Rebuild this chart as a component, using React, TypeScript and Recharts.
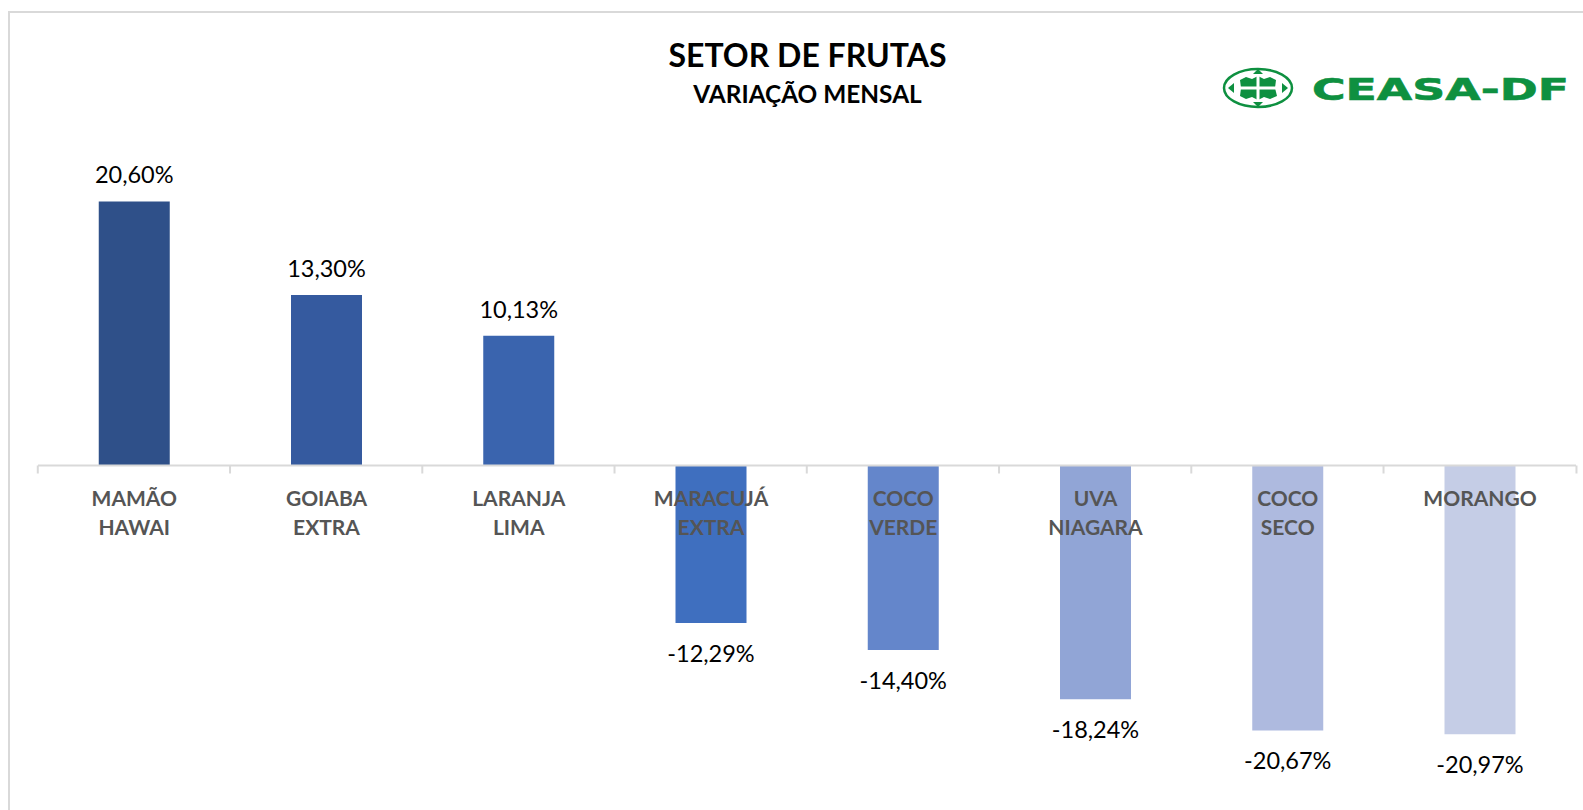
import React from 'react';
import {BarChart, Bar, XAxis, YAxis, Cell, LabelList, ReferenceLine} from 'recharts';

// dados do gráfico
const produtos = ["MAMÃO HAWAI", "GOIABA EXTRA", "LARANJA LIMA", "MARACUJÁ EXTRA", "COCO VERDE", "UVA NIAGARA", "COCO SECO", "MORANGO"];
const variacoes = [20.60, 13.30, 10.13, -12.29, -14.40, -18.24, -20.67, -20.97];
const cores = ["#2F5089", "#355A9F", "#3A64AE", "#3F6FBF", "#6486CB", "#91A5D6", "#AEBADF", "#C5CDE6"];
const dominioY = [-25, 25];

const data = produtos.map((nome, i) => ({nome, valor: variacoes[i], fill: cores[i]}));

const GAP = 0.316;
const FONTE = "Lato, 'Open Sans', sans-serif";

const fmt = (v: number) => v.toFixed(2).replace('.', ',') + '%';

function getBox(props: any) {
    const vb = props.viewBox ?? props;
    const x = Number(vb.x), y = Number(vb.y), w = Number(vb.width), h = Number(vb.height);
    return {x, y, w, h, top: Math.min(y, y + h), bottom: Math.max(y, y + h)};
}

function ValorLabel(props: any) {
    const {index} = props;
    const b = getBox(props);
    const v = variacoes[index];
    const cx = b.x + b.w / 2;
    const cy = v >= 0 ? b.top - 27 : b.bottom + 30;
    return (
        <text x={cx} y={cy} textAnchor="middle" dominantBaseline="central"
              fontFamily={FONTE} fontSize={23.5} fill="#000">
            {fmt(v)}
        </text>
    );
}

function CategoriaLabel(props: any) {
    const {index} = props;
    const b = getBox(props);
    const v = variacoes[index];
    const zero = v >= 0 ? b.bottom : b.top;
    const cx = b.x + b.w / 2;
    const band = b.w / (1 - 2 * GAP);
    const linhas = produtos[index].split(' ');
    const left = cx - band / 2;
    const right = cx + band / 2;
    return (
        <g>
            <line x1={left} x2={left} y1={zero} y2={zero + 8} stroke="#D9D9D9" strokeWidth={2}/>
            {index === produtos.length - 1 &&
                <line x1={right} x2={right} y1={zero} y2={zero + 8} stroke="#D9D9D9" strokeWidth={2}/>}
            {linhas.map((l, i) => (
                <text key={i} x={cx} y={zero + 32 + i * 29} textAnchor="middle" dominantBaseline="central"
                      fontFamily={FONTE} fontWeight="bold" fontSize={21} fill="#555555">
                    {l}
                </text>
            ))}
        </g>
    );
}

function Logo() {
    const verde = "#0E9040";
    return (
        <svg width={380} height={60} style={{position: 'absolute', left: 1200, top: 58}}>
            <ellipse cx={58} cy={30} rx={34} ry={19} fill="none" stroke={verde} strokeWidth={2.5}/>
            <path d="M40 22 L46 19 L52 21 L58 18 L64 21 L70 19 L76 22 L75 30 L77 38 L70 41 L64 39 L58 42 L52 39 L46 41 L40 38 L41 30 Z"
                  fill={verde}/>
            <rect x={56.5} y={18} width={3} height={24} fill="#fff"/>
            <rect x={40} y={28.5} width={37} height={3} fill="#fff"/>
            <polygon points="58,11 53,16 63,16" fill={verde}/>
            <polygon points="58,49 53,44 63,44" fill={verde}/>
            <polygon points="28,30 34,25 34,35" fill={verde}/>
            <polygon points="88,30 82,25 82,35" fill={verde}/>
            <text x={112} y={42} fontFamily="'DejaVu Sans', sans-serif" fontWeight="bold" fontSize={30}
                  fill={verde} stroke={verde} strokeWidth={0.6} textLength={257} lengthAdjust="spacingAndGlyphs">CEASA-DF</text>
        </svg>
    );
}

export default function App(): React.ReactElement {
    return (
        <div style={{position: 'absolute', left: 0, top: 0, width: 1583, height: 810, background: '#fff', overflow: 'hidden'}}>
            <div style={{position: 'absolute', left: 8, top: 11, width: 1600, height: 820, border: '2px solid #D9D9D9', boxSizing: 'border-box'}}/>
            <div style={{position: 'absolute', left: 0, width: 1615, top: 35, textAlign: 'center', fontFamily: FONTE, fontWeight: 'bold', fontSize: 32, color: '#000', lineHeight: '40px'}}>
                SETOR DE FRUTAS
            </div>
            <div style={{position: 'absolute', left: 0, width: 1615, top: 79, textAlign: 'center', fontFamily: FONTE, fontWeight: 'bold', fontSize: 24.4, color: '#000', lineHeight: '30px'}}>
                VARIAÇÃO MENSAL
            </div>
            <Logo/>
            <div style={{position: 'absolute', left: 0, top: 0}}>
                <BarChart width={1583} height={810} data={data} barCategoryGap={`${GAP * 100}%`}
                          margin={{top: 145, right: 7, bottom: 24, left: 38}}>
                    <XAxis dataKey="nome" hide/>
                    <YAxis hide domain={dominioY} type="number"/>
                    <ReferenceLine y={0} stroke="#D9D9D9" strokeWidth={2}/>
                    <Bar dataKey="valor" isAnimationActive={false}>
                        {data.map((d, i) => <Cell key={i} fill={d.fill}/>)}
                        <LabelList dataKey="valor" content={ValorLabel}/>
                        <LabelList dataKey="nome" content={CategoriaLabel}/>
                    </Bar>
                </BarChart>
            </div>
        </div>
    );
}
